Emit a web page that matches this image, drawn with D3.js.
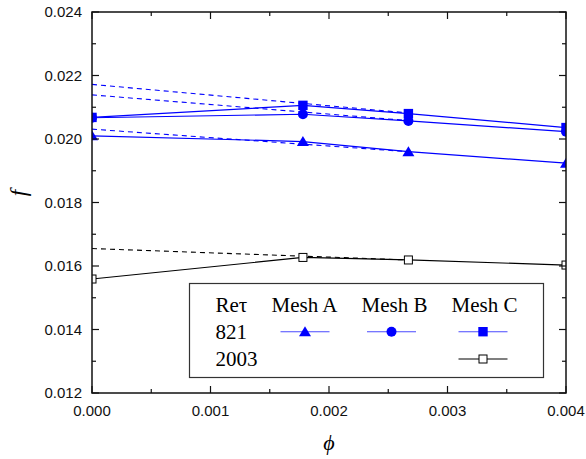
<!DOCTYPE html>
<html>
<head>
<meta charset="utf-8">
<script src="https://cdn.jsdelivr.net/npm/d3@7"></script>
<style>
  html, body { margin: 0; padding: 0; background: #fff; }
  svg { display: block; }
</style>
</head>
<body>
<svg id="chart" width="586" height="459"></svg>
<script>
// ---- data ----
const phi = [0, 0.00178, 0.00267, 0.004];
const meshA821 = [0.02010, 0.01992, 0.01960, 0.01924];
const meshB821 = [0.02067, 0.02078, 0.02057, 0.02023];
const meshC821 = [0.02068, 0.02106, 0.02080, 0.02036];
const meshC2003 = [0.01559, 0.01627, 0.01619, 0.01603];
// dashed extrapolation lines: [phi, f] endpoints
const dashPhi = [0, 0.00267];
const dashA821 = [0.02031, 0.01960];
const dashB821 = [0.02139, 0.02058];
const dashC821 = [0.02172, 0.02082];
const dashC2003 = [0.01655, 0.01619];
const xTicks = [0, 0.001, 0.002, 0.003, 0.004];
const yTicks = [0.012, 0.014, 0.016, 0.018, 0.020, 0.022, 0.024];
const legendCols = ["Mesh A", "Mesh B", "Mesh C"];
const legendRows = ["821", "2003"];

const svg = d3.select("#chart");
const L = 92, R = 566, T = 12, B = 393;
const x = d3.scaleLinear().domain([0, 0.004]).range([L, R]);
const y = d3.scaleLinear().domain([0.012, 0.024]).range([B, T]);

svg.append("defs").append("clipPath").attr("id", "plotclip")
  .append("rect").attr("x", L).attr("y", T).attr("width", R - L).attr("height", B - T);

const plot = svg.append("g").attr("clip-path", "url(#plotclip)");

const series = [
  {vals: meshC821, dash: dashC821, color: "#0000ff", sym: "square", fill: "#0000ff"},
  {vals: meshB821, dash: dashB821, color: "#0000ff", sym: "circle", fill: "#0000ff"},
  {vals: meshA821, dash: dashA821, color: "#0000ff", sym: "triangle", fill: "#0000ff"},
  {vals: meshC2003, dash: dashC2003, color: "#000000", sym: "osquare", fill: "#ffffff"}
];

const line = d3.line().x(d => x(d[0])).y(d => y(d[1]));

// dashed lines
series.forEach(s => {
  plot.append("path")
    .datum(dashPhi.map((p, i) => [p, s.dash[i]]))
    .attr("d", line).attr("fill", "none")
    .attr("stroke", s.color).attr("stroke-width", 1.1)
    .attr("stroke-dasharray", "5,4");
});
// solid lines
series.forEach(s => {
  plot.append("path")
    .datum(phi.map((p, i) => [p, s.vals[i]]))
    .attr("d", line).attr("fill", "none")
    .attr("stroke", s.color).attr("stroke-width", 1.2);
});

function drawSym(g, sym, cx, cy, color, fill) {
  if (sym === "square") {
    g.append("rect").attr("x", cx - 4.7).attr("y", cy - 4.7).attr("width", 9.4).attr("height", 9.4)
      .attr("fill", fill).attr("stroke", "none");
  } else if (sym === "osquare") {
    g.append("rect").attr("x", cx - 4).attr("y", cy - 4).attr("width", 8).attr("height", 8)
      .attr("fill", fill).attr("stroke", color).attr("stroke-width", 1);
  } else if (sym === "circle") {
    g.append("circle").attr("cx", cx).attr("cy", cy).attr("r", 5).attr("fill", fill);
  } else if (sym === "triangle") {
    g.append("path").attr("d", `M${cx},${cy - 5.5} L${cx + 6},${cy + 4.5} L${cx - 6},${cy + 4.5} Z`)
      .attr("fill", fill);
  }
}

// markers
series.forEach(s => {
  phi.forEach((p, i) => drawSym(plot, s.sym, x(p), y(s.vals[i]), s.color, s.fill));
});

// axes frame
const axisColor = "#111";
const ax = svg.append("g");
ax.append("rect").attr("x", L).attr("y", T).attr("width", R - L).attr("height", B - T)
  .attr("fill", "none").attr("stroke", axisColor).attr("stroke-width", 1.5);

const xMinor = d3.range(0, 0.0040001, 0.0005);
const yMinor = d3.range(0.012, 0.0240001, 0.001);

// bottom & top ticks (inward)
xMinor.forEach((v, i) => {
  const len = (i % 2 === 0) ? 7 : 4;
  ax.append("line").attr("x1", x(v)).attr("x2", x(v)).attr("y1", B).attr("y2", B - len)
    .attr("stroke", axisColor).attr("stroke-width", 1.2);
  ax.append("line").attr("x1", x(v)).attr("x2", x(v)).attr("y1", T).attr("y2", T + len)
    .attr("stroke", axisColor).attr("stroke-width", 1.2);
});
yMinor.forEach((v, i) => {
  const len = (i % 2 === 0) ? 7 : 4;
  ax.append("line").attr("x1", L).attr("x2", L + len).attr("y1", y(v)).attr("y2", y(v))
    .attr("stroke", axisColor).attr("stroke-width", 1.2);
  ax.append("line").attr("x1", R).attr("x2", R - len).attr("y1", y(v)).attr("y2", y(v))
    .attr("stroke", axisColor).attr("stroke-width", 1.2);
});

// tick labels
const fmt = d3.format(".3f");
svg.append("g").selectAll("text").data(xTicks).join("text")
  .attr("x", d => x(d)).attr("y", 416)
  .attr("text-anchor", "middle")
  .attr("font-family", "Liberation Sans, Arial, sans-serif").attr("font-size", 15)
  .attr("fill", "#111")
  .text(d => fmt(d));
svg.append("g").selectAll("text").data(yTicks).join("text")
  .attr("x", 82).attr("y", d => y(d)).attr("dy", "0.36em")
  .attr("text-anchor", "end")
  .attr("font-family", "Liberation Sans, Arial, sans-serif").attr("font-size", 15)
  .attr("fill", "#111")
  .text(d => fmt(d));

// axis titles
svg.append("text").attr("x", 329).attr("y", 450).attr("text-anchor", "middle")
  .attr("font-family", "Liberation Serif, Times New Roman, serif").attr("font-style", "italic")
  .attr("font-size", 22).text("\u03d5");
svg.append("text").attr("transform", "translate(26,193) rotate(-90)").attr("text-anchor", "middle")
  .attr("font-family", "Liberation Serif, Times New Roman, serif").attr("font-style", "italic")
  .attr("font-size", 23).text("f");

// legend
const lg = svg.append("g");
lg.append("rect").attr("x", 189.5).attr("y", 283.5).attr("width", 354).attr("height", 94)
  .attr("fill", "#fff").attr("stroke", "#333").attr("stroke-width", 1.2);
const serif = "Liberation Serif, Times New Roman, serif";
const lfs = 21;
lg.append("text").attr("x", 215.5).attr("y", 312).attr("font-family", serif).attr("font-size", lfs).text("Re\u03c4");
const colX = [271.5, 361.5, 451.5];
legendCols.forEach((c, i) => {
  lg.append("text").attr("x", colX[i]).attr("y", 312).attr("font-family", serif).attr("font-size", lfs).text(c);
});
legendRows.forEach((r, i) => {
  lg.append("text").attr("x", 215.5).attr("y", 339 + i * 27).attr("font-family", serif).attr("font-size", lfs).text(r);
});
const symX = [305, 391.5, 483];
const legendItems = [
  {col: 0, row: 0, s: series[2]},
  {col: 1, row: 0, s: series[1]},
  {col: 2, row: 0, s: series[0]},
  {col: 2, row: 1, s: series[3]}
];
legendItems.forEach(it => {
  const cx = symX[it.col], cy = 331.7 + it.row * 27.3;
  lg.append("line").attr("x1", cx - 24.5).attr("x2", cx + 24.5).attr("y1", cy).attr("y2", cy)
    .attr("stroke", it.s.color === "#000000" ? "#000" : "#4a4aff").attr("stroke-width", 1.1);
  drawSym(lg, it.s.sym, cx, cy, it.s.color, it.s.fill);
});
</script>
</body>
</html>
